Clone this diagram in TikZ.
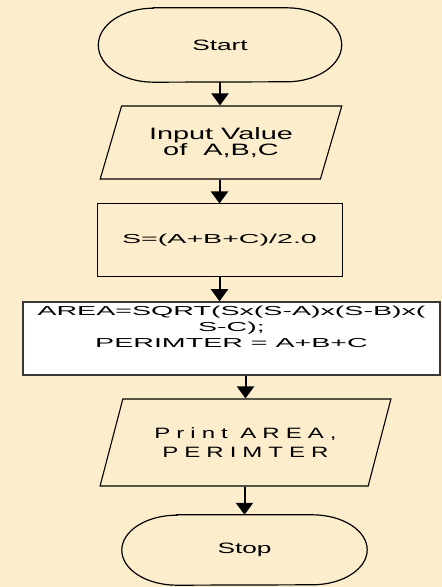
\documentclass[tikz,border=0pt]{standalone}
\usepackage{fontspec}
\usepackage{tikz}
\usetikzlibrary{arrows.meta,shapes.geometric}
\newfontfamily\termfont[FakeStretch=1.75]{Liberation Sans}
\newfontfamily\calcfont[FakeStretch=2.2]{Liberation Sans}
\newfontfamily\printfont[FakeStretch=1.6,LetterSpace=40]{Liberation Sans}
\definecolor{cream}{RGB}{252,238,204}
\definecolor{edge}{RGB}{55,55,55}

\begin{document}
\begin{tikzpicture}[x=1pt,y=1pt,
  terminal/.style={rectangle,inner sep=0pt,font=\termfont\fontsize{15}{16}\selectfont},
  io/.style={trapezium,draw,line width=1.1pt,trapezium stretches=true,align=center,inner sep=2pt},
  process/.style={rectangle,draw,line width=1pt,align=center,font=\calcfont\fontsize{13}{16}\selectfont},
  arr/.style={line width=2pt,-{Triangle[width=17pt,length=12pt]}}]
\useasboundingbox (0,0) rectangle (442,587);
\fill[cream] (0,0) rectangle (442,587);
% steps of the flow chart
\node[terminal,minimum width=243pt,minimum height=74pt] (start) at (220,542) {Start};
\node[io,minimum width=242pt,minimum height=73pt,trapezium left angle=65,trapezium right angle=115,
  font=\termfont\fontsize{16.5}{16}\selectfont] (input) at (221,444.5) {Input Value\\of~ A,B,C};
\node[process,minimum width=245pt,minimum height=73pt] (half) at (219.5,346.5) {S=(A+B+C)/2.0};
\node[process,fill=white,draw=edge,line width=1.5pt,inner sep=4.5pt,minimum width=417pt] (area) at (231.5,248.5)
  {\parbox[c][64pt][t]{405pt}{\centering AREA=SQRT(Sx(S-A)x(S-B)x(\\S-C);\\PERIMTER = A+B+C}};
\node[io,minimum width=291pt,minimum height=87pt,trapezium left angle=63,trapezium right angle=117,
  font=\printfont\fontsize{15}{19}\selectfont] (print) at (245.5,144.5) {Print AREA,\\PERIMTER};
\node[terminal,minimum width=245pt,minimum height=70pt] (stop) at (244.5,37) {Stop};
% rounded ends of start and stop
\foreach \n/\ry in {start/37pt,stop/35pt}
  {\draw[line width=1.2pt] ([xshift=55pt]\n.north west) -- ([xshift=-55pt]\n.north east)
     arc[start angle=90,end angle=-90,x radius=55pt,y radius=\ry]
     -- ([xshift=55pt]\n.south west)
     arc[start angle=270,end angle=90,x radius=55pt,y radius=\ry] -- cycle;}
% arrows
\draw[arr] (start.south) -- (start.south |- input.north);
\draw[arr] (input.south -| half.center) -- (half.north);
\draw[arr] (half.south) -- (half.south |- area.north);
\draw[arr] (area.south -| print.center) -- (print.north -| print.center);
\draw[arr] (print.south -| stop.center) -- (stop.north);
\end{tikzpicture}
\end{document}
